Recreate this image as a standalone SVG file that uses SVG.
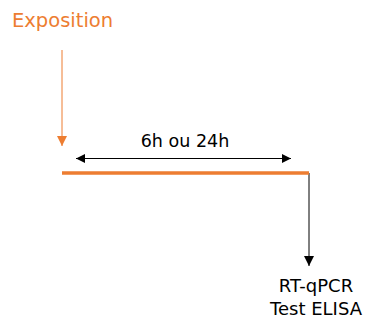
<svg xmlns="http://www.w3.org/2000/svg" width="366" height="322" viewBox="0 0 366 322">
<style>
text{font-family:"DejaVu Sans","Verdana",sans-serif;}
.lbl{fill:#000;font-size:18px;}
.dur{fill:#000;font-size:17.5px;}
.or{fill:#ED7D31;font-size:19.5px;}
</style>
<defs>
<marker id="ah" viewBox="0 0 10 10" refX="10" refY="5" markerWidth="9" markerHeight="9" markerUnits="userSpaceOnUse" orient="auto-start-reverse"><path d="M0,0 L10,5 L0,10 Z" fill="#000"/></marker>
<marker id="ahd" viewBox="0 0 10 10" refX="10" refY="5" markerWidth="13" markerHeight="10" markerUnits="userSpaceOnUse" orient="auto"><path d="M0,0 L10,5 L0,10 Z" fill="#000"/></marker>
<marker id="aho" viewBox="0 0 10 10" refX="10" refY="5" markerWidth="10" markerHeight="10" markerUnits="userSpaceOnUse" orient="auto"><path d="M0,0 L10,5 L0,10 Z" fill="#ED7D31"/></marker>
</defs>
<g id="connectors">
<line x1="62" y1="50" x2="62" y2="146" stroke="#ED7D31" stroke-width="1" marker-end="url(#aho)"/>
<line x1="76" y1="158.5" x2="291" y2="158.5" stroke="#000" stroke-width="1" marker-start="url(#ah)" marker-end="url(#ah)"/>
<line x1="309" y1="173" x2="309" y2="266" stroke="#000" stroke-width="1" marker-end="url(#ahd)"/>
</g>
<g id="timeline">
<line x1="62" y1="173" x2="309" y2="173" stroke="#ED7D31" stroke-width="3.5"/>
</g>
<g id="exposition"><text class="or" x="12" y="26.5">Exposition</text></g>
<g id="duration"><text class="dur" x="185" y="147" text-anchor="middle">6h ou 24h</text></g>
<g id="analyses"><text class="lbl" x="316" y="292" text-anchor="middle">RT-qPCR</text><text class="lbl" x="316" y="315" text-anchor="middle">Test ELISA</text></g>
</svg>
